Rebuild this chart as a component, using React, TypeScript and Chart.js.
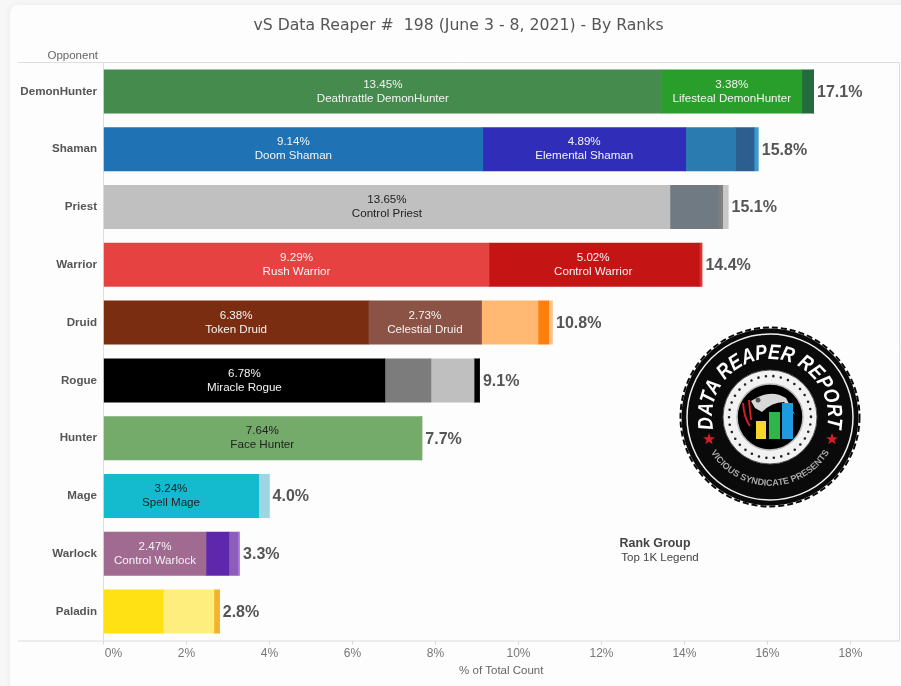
import React, { useEffect, useRef } from "react";
import { Chart, registerables } from "chart.js";

Chart.register(...registerables);

const categories = ["DemonHunter", "Shaman", "Priest", "Warrior", "Druid", "Rogue", "Hunter", "Mage", "Warlock", "Paladin"];
const totalLabels = ["17.1%", "15.8%", "15.1%", "14.4%", "10.8%", "9.1%", "7.7%", "4.0%", "3.3%", "2.8%"];

const seg1 = [13.45, 9.14, 13.65, 9.29, 6.38, 6.78, 7.64, 3.24, 2.47, 1.44];
const seg2 = [3.38, 4.89, 1.16, 5.02, 2.73, 1.11, 0.03, 0.5, 0.55, 1.22];
const seg3 = [0.28, 1.2, 0.11, 0.05, 1.36, 1.04, 0, 0.25, 0.22, 0.13];
const seg4 = [0, 0.45, 0.13, 0.06, 0.26, 0.13, 0, 0, 0.04, 0];
const seg5 = [0, 0.1, 0, 0, 0.09, 0, 0, 0, 0, 0];

const seg1Colors = ["#458b4d", "#1f72b3", "#c0c0c0", "#e64242", "#7b2d12", "#000000", "#74aa6a", "#14bace", "#a06a91", "#ffe114"];
const seg2Colors = ["#2a9e2a", "#302eb9", "#6f7a82", "#c51414", "#8a5346", "#7c7c7c", "#74aa6a", "#14bace", "#5e28ad", "#fdee7d"];
const seg3Colors = ["#236b3e", "#2a7bb0", "#7f7f7f", "#c51414", "#ffb973", "#bfbfbf", "#74aa6a", "#9cd6e2", "#8c5dbb", "#f5b22e"];
const seg4Colors = ["#236b3e", "#2c5f8f", "#c8c8c8", "#e03030", "#ff7f0e", "#000000", "#74aa6a", "#9cd6e2", "#b57de8", "#f5b22e"];
const seg5Colors = ["#236b3e", "#3b9bd0", "#c8c8c8", "#e03030", "#ffc48a", "#000000", "#74aa6a", "#9cd6e2", "#b57de8", "#f5b22e"];

const seg1Names = ["Deathrattle DemonHunter", "Doom Shaman", "Control Priest", "Rush Warrior", "Token Druid", "Miracle Rogue", "Face Hunter", "Spell Mage", "Control Warlock", ""];
const seg2Names = ["Lifesteal DemonHunter", "Elemental Shaman", "", "Control Warrior", "Celestial Druid", "", "", "", "", ""];
const seg1TextColors = ["#f4f4f4", "#f4f4f4", "#222222", "#f4f4f4", "#f4f4f4", "#f4f4f4", "#222222", "#222222", "#f4f4f4", "#222222"];

const title = "vS Data Reaper #  198 (June 3 - 8, 2021) - By Ranks";

const overlayPlugin = {
  id: "overlay",
  beforeDraw(chart: any) {
    const { ctx, chartArea } = chart;
    ctx.save();
    ctx.strokeStyle = "#dedede";
    ctx.lineWidth = 1;
    ctx.beginPath();
    ctx.moveTo(18, chartArea.top);
    ctx.lineTo(chartArea.right + 0.5, chartArea.top);
    ctx.lineTo(chartArea.right + 0.5, chartArea.bottom + 0.5);
    ctx.lineTo(18, chartArea.bottom + 0.5);
    ctx.stroke();
    ctx.restore();
  },
  afterDatasetsDraw(chart: any) {
    const { ctx, chartArea } = chart;
    ctx.save();
    ctx.textAlign = "center";
    ctx.textBaseline = "middle";
    ctx.font = "11.6px 'Liberation Sans'";
    const drawSeg = (dsIdx: number, names: string[], values: number[], colors: string[] | null) => {
      chart.getDatasetMeta(dsIdx).data.forEach((bar: any, i: number) => {
        if (!names[i]) return;
        const cx = (bar.x + bar.base) / 2;
        ctx.fillStyle = colors ? colors[i] : "#f4f4f4";
        ctx.fillText(values[i].toFixed(2) + "%", cx, bar.y - 7);
        ctx.fillText(names[i], cx, bar.y + 7);
      });
    };
    drawSeg(0, seg1Names, seg1, seg1TextColors);
    drawSeg(1, seg2Names, seg2, null);

    ctx.textAlign = "left";
    ctx.font = "bold 16px 'Liberation Sans'";
    ctx.fillStyle = "#555555";
    const last = chart.data.datasets.length - 1;
    chart.getDatasetMeta(last).data.forEach((bar: any, i: number) => {
      ctx.fillText(totalLabels[i], chart.scales.x.getPixelForValue(seg1[i] + seg2[i] + seg3[i] + seg4[i] + seg5[i]) + 3.5, bar.y + 1);
    });

    ctx.textAlign = "right";
    ctx.font = "11.5px 'Liberation Sans'";
    ctx.fillStyle = "#666666";
    ctx.fillText("Opponent", 98, chartArea.top - 7);

    ctx.textAlign = "center";
    ctx.font = "bold 12.4px 'Liberation Sans'";
    ctx.fillStyle = "#444444";
    ctx.fillText("Rank Group", 655, 544);
    ctx.font = "11.5px 'Liberation Sans'";
    ctx.fillText("Top 1K Legend", 660, 558);
    ctx.restore();
  },
};

function Logo() {
  const dots = "0 7.55";
  return (
    <svg width={901} height={686} style={{ position: "absolute", left: 0, top: 0, pointerEvents: "none" }}>
      <circle cx={770} cy={417} r={88.5} fill="#0a0a0a" />
      <circle cx={770} cy={417} r={89.5} fill="none" stroke="#0a0a0a" strokeWidth={2} strokeDasharray="6 3" />
      <circle cx={770} cy={417} r={83} fill="none" stroke="#f0f0f0" strokeWidth={1.5} />
      <path id="logoTop" d="M 714 432 A 58 58 0 1 1 826 432" fill="none" />
      <text fontFamily="'Liberation Sans'" fontWeight="bold" fontStyle="italic" fontSize={21} fill="#ffffff">
        <textPath href="#logoTop" startOffset={3} textLength={205} lengthAdjust="spacingAndGlyphs">DATA REAPER REPORT</textPath>
      </text>
      <path id="logoBottom" d="M 707.5 446 A 69 69 0 0 0 832.5 446" fill="none" />
      <text fontFamily="'Liberation Sans'" fontWeight="bold" fontSize={9} fill="#a8a8a8">
        <textPath href="#logoBottom" startOffset="50%" textAnchor="middle">VICIOUS SYNDICATE PRESENTS</textPath>
      </text>
      <polygon points="709,433 710.5,437.2 715,437.3 711.4,440 712.7,444.3 709,441.8 705.3,444.3 706.6,440 703,437.3 707.5,437.2" fill="#d02028" />
      <polygon points="832,433 833.5,437.2 838,437.3 834.4,440 835.7,444.3 832,441.8 828.3,444.3 829.6,440 826,437.3 830.5,437.2" fill="#d02028" />
      <circle cx={770} cy={417} r={47} fill="#f2f2f2" stroke="#555" strokeWidth={1} />
      <circle cx={770} cy={417} r={41} fill="none" stroke="#222" strokeWidth={2.6} strokeLinecap="round" strokeDasharray={dots} />
      <circle cx={770} cy={417} r={33} fill="#000" stroke="#bbb" strokeWidth={1.5} />
      <path d="M 751 401 Q 770 388 786 398 L 795 415 L 784 402 Q 772 402 762 412 L 755 408 Z" fill="#d8d8d8" />
      <circle cx={758} cy={400} r={2.5} fill="#555" />
      <path d="M 743 403 Q 744 418 750 426 M 749 400 L 751 420" stroke="#d21f26" strokeWidth={2} fill="none" />
      <rect x={756} y={421} width={10} height={18} fill="#f7d52a" />
      <rect x={769} y={412} width={11} height={27} fill="#2fb54a" />
      <rect x={782} y={403} width={11} height={36} fill="#1e9be0" />
    </svg>
  );
}

export default function App() {
  const ref = useRef<HTMLCanvasElement>(null);
  useEffect(() => {
    const chart = new Chart(ref.current as HTMLCanvasElement, {
      type: "bar",
      data: {
        labels: categories,
        datasets: [
          { data: seg1, backgroundColor: seg1Colors },
          { data: seg2, backgroundColor: seg2Colors },
          { data: seg3, backgroundColor: seg3Colors },
          { data: seg4, backgroundColor: seg4Colors },
          { data: seg5, backgroundColor: seg5Colors },
        ],
      },
      options: {
        indexAxis: "y",
        responsive: false,
        animation: false,
        devicePixelRatio: 1,
        layout: { padding: { left: 18, right: 2, top: 0, bottom: 0 } },
        datasets: { bar: { barPercentage: 0.75, categoryPercentage: 1, inflateAmount: 0.33 } },
        plugins: {
          legend: { display: false },
          tooltip: { enabled: false },
          title: {
            display: true,
            text: title,
            color: "#555555",
            font: { family: "'DejaVu Sans'", size: 15.7, weight: "normal", lineHeight: 1.2 },
            padding: { top: 17, bottom: 26.66 },
          },
        },
        scales: {
          x: {
            stacked: true,
            min: 0,
            max: 19.17,
            afterFit(scale: any) { scale.height = 45.5; },
            ticks: {
              stepSize: 2,
              includeBounds: false,
              autoSkip: false,
              maxRotation: 0,
              padding: 2,
              color: "#777777",
              font: { family: "'Liberation Sans'", size: 12 },
              callback: (v: any) => (v === 0 ? "      0%" : v + "%"),
            },
            grid: { drawOnChartArea: false, drawTicks: true, tickLength: 4, color: "#d8d8d8" },
            border: { display: false },
            title: {
              display: true,
              text: "% of Total Count",
              color: "#666666",
              font: { family: "'Liberation Sans'", size: 11.5 },
              padding: { top: 3, bottom: 8 },
            },
          },
          y: {
            stacked: true,
            afterFit(scale: any) { scale.width = 85.5; },
            ticks: {
              color: "#555555",
              padding: 6.5,
              labelOffset: 0,
              font: { family: "'Liberation Sans'", size: 11.6, weight: "bold" },
            },
            grid: { display: true, drawOnChartArea: false, drawTicks: false, color: "#dedede" },
            border: { display: true, color: "#dedede" },
          },
        },
      } as any,
      plugins: [overlayPlugin],
    });
    return () => chart.destroy();
  }, []);
  return (
    <div style={{ position: "absolute", left: 0, top: 0, width: 901, height: 686, overflow: "hidden", background: "#f7f7f7" }}>
      <div style={{ position: "absolute", left: 10, top: 5, width: 900, height: 720, background: "#fdfdfd", borderRadius: 8, boxShadow: "0 0 6px rgba(0,0,0,0.06)" }} />
      <canvas ref={ref} width={901} height={686} style={{ position: "absolute", left: 0, top: 0, display: "block" }} />
      <Logo />
    </div>
  );
}
